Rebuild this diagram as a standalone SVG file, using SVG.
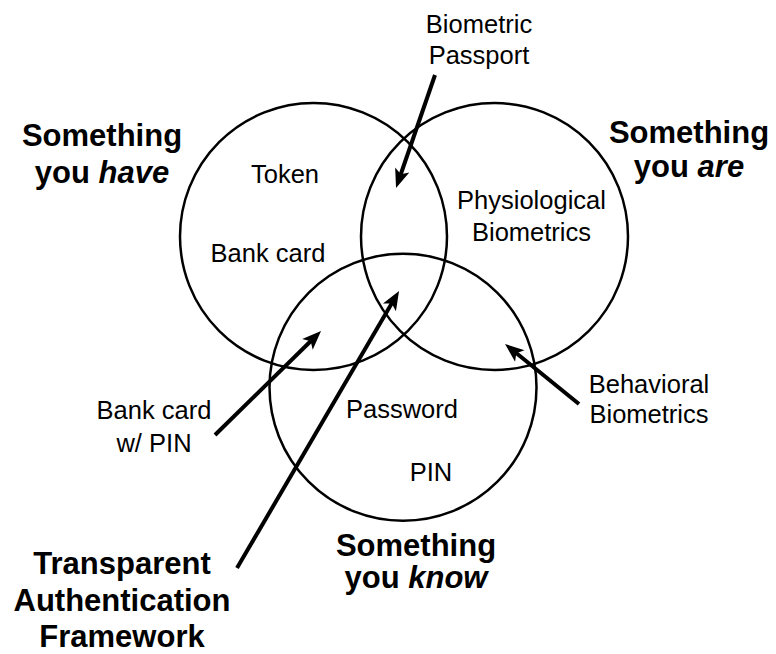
<svg xmlns="http://www.w3.org/2000/svg" width="776" height="654" viewBox="0 0 776 654">
  <style>
    .set { fill: none; stroke: #000; stroke-width: 2.5; }
    .arrow { stroke: #000; stroke-width: 4; fill: none; marker-end: url(#head); }
    .lbl { font-family: "Liberation Sans", Arial, Helvetica, sans-serif; font-size: 25.5px; fill: #000; text-anchor: middle; }
    .ttl { font-family: "Liberation Sans", Arial, Helvetica, sans-serif; font-size: 31px; font-weight: bold; fill: #000; text-anchor: middle; }
    .em { font-style: italic; }
  </style>
  <defs>
    <marker id="head" markerUnits="userSpaceOnUse" viewBox="-10 -9 22 18" refX="0" refY="0" markerWidth="22" markerHeight="18" orient="auto">
      <path d="M10,0 L-9,-7.5 L-4.5,0 L-9,7.5 Z" fill="#000"/>
    </marker>
  </defs>

  <rect width="776" height="654" fill="#fff"/>

  <!-- Three overlapping authentication-factor sets -->
  <g id="have">
    <circle class="set" cx="313.5" cy="236.5" r="133.5"/>
    <text class="ttl" x="102" y="146">Something</text>
    <text class="ttl" x="102" y="183">you <tspan class="em">have</tspan></text>
    <text class="lbl" x="285" y="183">Token</text>
    <text class="lbl" x="268" y="262">Bank card</text>
  </g>

  <g id="are">
    <circle class="set" cx="494.5" cy="236.5" r="133.5"/>
    <text class="ttl" x="689" y="143">Something</text>
    <text class="ttl" x="689" y="177">you <tspan class="em">are</tspan></text>
    <text class="lbl" x="531.5" y="209">Physiological</text>
    <text class="lbl" x="531.5" y="241">Biometrics</text>
  </g>

  <g id="know">
    <circle class="set" cx="403" cy="387.3" r="133.5"/>
    <text class="ttl" x="416" y="556">Something</text>
    <text class="ttl" x="416" y="588">you <tspan class="em">know</tspan></text>
    <text class="lbl" x="402" y="418">Password</text>
    <text class="lbl" x="431" y="481">PIN</text>
  </g>

  <!-- Callout labels -->
  <g id="passport">
    <text class="lbl" x="479" y="33">Biometric</text>
    <text class="lbl" x="479" y="64">Passport</text>
  </g>
  <g id="behavioral">
    <text class="lbl" x="649" y="393">Behavioral</text>
    <text class="lbl" x="649" y="423">Biometrics</text>
  </g>
  <g id="bankcard-pin">
    <text class="lbl" x="154" y="419">Bank card</text>
    <text class="lbl" x="154" y="452">w/ PIN</text>
  </g>
  <g id="taf">
    <text class="ttl" x="122" y="574">Transparent</text>
    <text class="ttl" x="122" y="611">Authentication</text>
    <text class="ttl" x="122" y="647">Framework</text>
  </g>

  <!-- Connectors pointing into the intersections -->
  <g id="connectors">
    <line class="arrow" x1="435" y1="75" x2="399.3" y2="178.5"/>
    <line class="arrow" x1="215" y1="435" x2="313.9" y2="338"/>
    <line class="arrow" x1="237" y1="568" x2="394" y2="299.6"/>
    <line class="arrow" x1="579" y1="404" x2="512.8" y2="350.3"/>
  </g>
</svg>
